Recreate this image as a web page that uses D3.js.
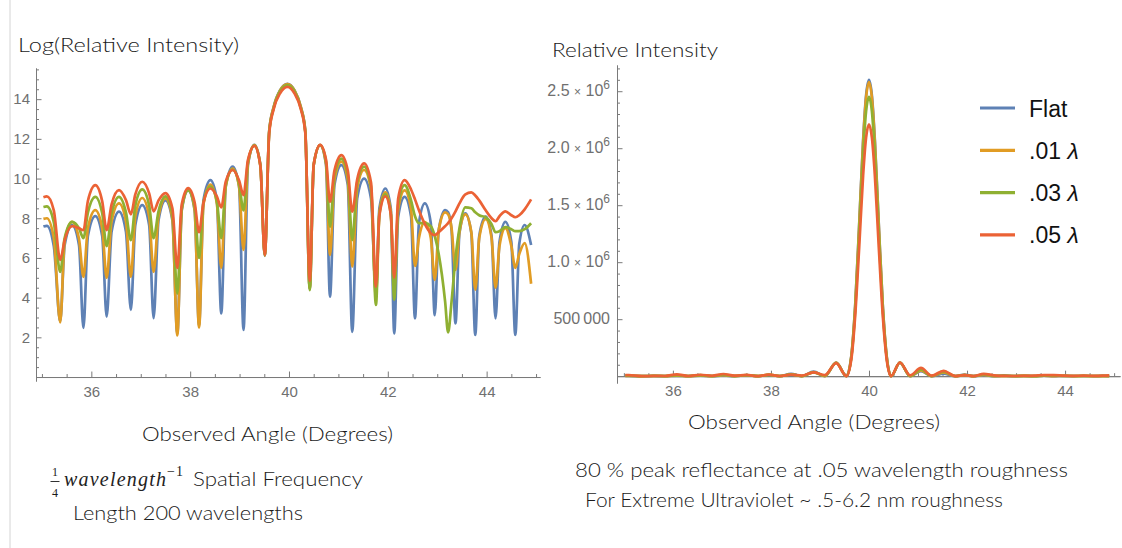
<!DOCTYPE html>
<html><head><meta charset="utf-8">
<script src="https://cdn.jsdelivr.net/npm/d3@7"></script>
<style>body{margin:0;background:#fff}svg{display:block}</style>
</head><body><svg id="c" width="1122" height="548"></svg>
<script>
// ---------- data ----------
const seriesNames = ["Flat", ".01", ".03", ".05"];
const seriesColors = ["#5e81b5", "#e19c24", "#8fb032", "#eb6235"];

// Left chart: Log(Relative Intensity) vs observed angle
const logAngles = [
  35.03, 35.10, 35.24, 35.37, 35.46, 35.61, 35.75, 35.84,
  35.93, 36.08, 36.22, 36.31, 36.41, 36.56, 36.70, 36.80,
  36.89, 37.03, 37.17, 37.26, 37.36, 37.50, 37.64, 37.74,
  37.83, 37.96, 38.09, 38.18, 38.27, 38.41, 38.54, 38.63,
  38.72, 38.86, 38.99, 39.08, 39.17, 39.30, 39.42, 39.51,
  39.60, 39.69, 39.82, 39.97, 40.11, 40.24, 40.33, 40.42,
  40.50, 40.63, 40.75, 40.83, 40.92, 41.06, 41.19, 41.28,
  41.38, 41.52, 41.66, 41.76, 41.83, 41.95, 42.06, 42.13,
  42.21, 42.34, 42.47, 42.55, 42.63, 42.75, 42.87, 42.95,
  43.03, 43.16, 43.22, 43.29, 43.37, 43.45, 43.57, 43.69, 43.77,
  43.85, 43.98, 44.10, 44.18, 44.26, 44.38, 44.50, 44.58,
  44.66, 44.77, 44.90
];
const logFlat = [
  7.58, 7.62, 6.6, 2.8, 6.65, 7.65, 6.65, 2.47,
  7.1, 8.11, 7.1, 3.04, 7.33, 8.33, 7.33, 3.38,
  7.66, 8.66, 7.66, 2.97, 7.9, 8.9, 7.9, 2.2,
  8.4, 9.4, 8.4, 2.6, 8.92, 9.92, 8.92, 3.2,
  9.6, 10.6, 9.6, 2.37, 10.7, 11.7, 10.7, 6.1,
  12.4, 13.6, 14.45, 14.77, 14.45, 13.6, 12.4, 4.45,
  10.68, 11.68, 10.68, 4.05, 9.68, 10.68, 9.68, 2.28,
  9.0, 10.0, 9.0, 4.2, 8.5, 9.5, 8.5, 2.2,
  8.08, 9.08, 8.1, 2.96, 7.75, 8.75, 7.75, 3.12,
  7.4, 8.41, 8.3, 7.4, 2.7, 7.25, 8.25, 7.25, 2.12,
  7.1, 8.08, 7.1, 2.96, 6.8, 7.82, 6.8, 2.12,
  6.7, 7.66, 6.65
];
const logR01 = [
  7.97, 8.0, 7.0, 2.75, 6.85, 7.82, 6.97, 5.05,
  7.5, 8.41, 7.5, 5.0, 7.85, 8.75, 7.85, 5.05,
  8.1, 9.02, 8.1, 5.3, 8.1, 9.0, 8.0, 2.1,
  8.45, 9.45, 8.45, 2.5, 8.7, 9.7, 8.75, 5.5,
  9.6, 10.5, 9.6, 6.4, 10.75, 11.68, 10.68, 6.12,
  12.4, 13.6, 14.44, 14.76, 14.44, 13.6, 12.4, 4.45,
  10.68, 11.68, 10.75, 6.15, 9.95, 10.85, 9.95, 5.56,
  9.5, 10.43, 9.45, 4.05, 8.3, 9.3, 8.35, 4.4,
  8.45, 9.4, 8.45, 5.6, 7.0, 7.8, 7.0, 4.9,
  7.4, 8.3, 8.2, 7.5, 5.4, 7.3, 8.2, 7.3, 4.4,
  7.0, 7.95, 7.0, 4.5, 6.6, 7.5, 6.6, 5.5,
  6.2, 6.75, 4.7
];
const logR03 = [
  8.57, 8.6, 7.8, 5.3, 7.0, 7.82, 7.5, 7.0,
  8.28, 9.08, 8.25, 6.6, 8.25, 9.08, 8.3, 6.9,
  8.65, 9.45, 8.65, 7.0, 8.35, 9.1, 8.2, 4.2,
  8.5, 9.4, 8.6, 6.0, 8.8, 9.6, 8.85, 7.0,
  9.7, 10.45, 9.75, 8.4, 10.85, 11.66, 10.66, 6.14,
  12.35, 13.55, 14.4, 14.71, 14.4, 13.55, 12.35, 4.38,
  10.68, 11.68, 10.85, 7.57, 10.2, 11.0, 10.2, 6.9,
  9.8, 10.6, 9.6, 3.63, 8.2, 9.2, 8.2, 3.9,
  8.7, 9.67, 8.9, 8.1, 7.75, 7.75, 7.6, 7.1,
  6.2, 3.8, 2.25, 3.8, 6.0, 7.5, 8.55, 8.5, 8.3,
  8.15, 8.05, 7.7, 7.3, 7.35, 7.55, 7.45, 7.35,
  7.35, 7.45, 7.75
];
const logR05 = [
  9.06, 9.1, 8.4, 5.9, 6.9, 7.6, 7.5, 7.4,
  8.87, 9.67, 8.85, 7.4, 8.7, 9.42, 8.92, 8.2,
  9.2, 9.84, 9.25, 8.35, 8.9, 9.27, 8.5, 5.5,
  8.7, 9.52, 8.8, 7.3, 8.8, 9.5, 9.1, 8.55,
  9.85, 10.43, 9.9, 9.17, 10.95, 11.65, 10.65, 6.15,
  12.3, 13.5, 14.3, 14.62, 14.3, 13.5, 12.3, 4.85,
  10.7, 11.7, 10.95, 8.83, 10.4, 11.18, 10.4, 8.33,
  9.95, 10.76, 9.8, 4.55, 8.15, 9.1, 8.2, 5.0,
  9.0, 9.92, 9.45, 8.95, 8.4, 7.7, 7.25, 7.15,
  7.3, 7.6, 7.75, 8.0, 8.35, 8.75, 9.2, 9.3, 9.15,
  8.9, 8.4, 8.0, 7.85, 8.1, 8.35, 8.15, 8.05,
  8.15, 8.45, 8.95
];

// Right chart: Relative Intensity vs observed angle
const linAngles = [
  35.03, 35.10, 35.37, 35.61, 35.84, 36.08, 36.31, 36.56, 36.80, 37.03,
  37.26, 37.50, 37.74, 37.96, 38.18, 38.41, 38.63, 38.87, 39.10, 39.33,
  39.54, 39.64, 39.72, 39.80, 39.88, 39.94, 40.00, 40.06, 40.12, 40.20,
  40.28, 40.36, 40.45, 40.63, 40.84, 41.06, 41.28, 41.52, 41.76, 41.95,
  42.13, 42.34, 42.55, 42.75, 42.95, 43.16, 43.37, 43.57, 43.77, 43.98,
  44.18, 44.38, 44.58, 44.77, 44.90
];
const linFlat = [
  1900, 2000, 0, 2100, 0, 3300, 0, 4100, 0, 5800,
  0, 7300, 0, 12000, 0, 20000, 0, 40000, 0, 120000,
  0, 177000, 630000, 1330000, 2070000, 2460000, 2600000, 2460000, 2070000, 1330000,
  630000, 177000, 0, 118000, 0, 43000, 0, 22000, 0, 13000,
  0, 8800, 0, 6300, 0, 4500, 0, 3800, 0, 3200,
  0, 2500, 0, 2100, 800
];
const linR01 = [
  2900, 3000, 0, 2500, 150, 4500, 150, 6300, 150, 8300,
  200, 8100, 0, 12700, 0, 16300, 250, 36000, 600, 118000,
  500, 176000, 625000, 1320000, 2050000, 2440000, 2580000, 2440000, 2050000, 1320000,
  625000, 176000, 0, 118000, 470, 51000, 260, 34000, 60, 11000,
  80, 12000, 270, 2400, 130, 4000, 220, 3600, 80, 2800,
  90, 1800, 250, 850, 110
];
const linR03 = [
  5300, 5400, 200, 2500, 1100, 8800, 740, 8800, 1000, 12700,
  1100, 8900, 70, 12100, 400, 14800, 1100, 34000, 4400, 116000,
  460, 167000, 590000, 1250000, 1950000, 2320000, 2450000, 2320000, 1950000, 1250000,
  590000, 167000, 80, 118000, 1900, 60000, 1000, 40000, 40, 10000,
  50, 16000, 3300, 2300, 1200, 45, 400, 5200, 4000, 3200,
  1500, 1900, 1550, 1700, 2300
];
const linR05 = [
  8600, 9000, 370, 2000, 1600, 15800, 1600, 12300, 3600, 18800,
  4200, 10600, 250, 13600, 1500, 13400, 5200, 34000, 9600, 115000,
  470, 150000, 540000, 1130000, 1760000, 2090000, 2210000, 2090000, 1760000, 1130000,
  540000, 150000, 130, 120000, 6800, 72000, 4100, 47000, 95, 9000,
  150, 20000, 7700, 2200, 1300, 2000, 4200, 9900, 9400, 4400,
  2600, 4200, 3100, 4700, 7700
];

// ticks
const xMajorTicks = [36, 38, 40, 42, 44];
const leftYTicks = [2, 4, 6, 8, 10, 12, 14];
const rightYTicks = [500000, 1000000, 1500000, 2000000, 2500000];
const rightYTickLabels = [["500\u2009000"], ["1.0", "6"], ["1.5", "6"], ["2.0", "6"], ["2.5", "6"]];

// ---------- drawing ----------
const svg = d3.select("#c");
const AX = "#7a7a7a", LBL = "#707070";
const tickFont = "'Liberation Sans', Arial, sans-serif";
const titleFont = "Lato, 'Open Sans', sans-serif";

svg.append("line").attr("x1", 10).attr("x2", 10).attr("y1", 0).attr("y2", 548)
  .attr("stroke", "#d4d4d4").attr("stroke-width", 1);

function styleAxis(g) {
  g.selectAll("path.domain").attr("stroke", AX).attr("stroke-width", 1);
  g.selectAll(".tick line").attr("stroke", AX).attr("stroke-width", 1);
  g.selectAll(".tick text").attr("fill", LBL).style("font-family", tickFont).style("font-size", "15px");
}

// Left chart
const lx = d3.scaleLinear().domain([34.88, 45.08]).range([36, 540]);
const ly = d3.scaleLinear().domain([-0.2, 15.57]).range([381, 68]);
const gL = svg.append("g");

const xMinorL = d3.range(35, 45.01, 0.5).filter(v => v % 2 !== 0);
gL.append("g").attr("transform", `translate(0,${ly(0)})`)
  .call(d3.axisBottom(lx).tickValues(xMinorL).tickSize(-3).tickSizeOuter(0).tickFormat(""))
  .call(styleAxis);
gL.append("g").attr("transform", `translate(0,${ly(0)})`)
  .call(d3.axisBottom(lx).tickValues(xMajorTicks).tickSize(-5.5).tickSizeOuter(0).tickPadding(9).tickFormat(d3.format("d")))
  .call(styleAxis);
const yMinorL = d3.range(0.5, 15.51, 0.5).filter(v => v % 2 !== 0);
gL.append("g").attr("transform", `translate(${lx(34.88)},0)`)
  .call(d3.axisLeft(ly).tickValues(yMinorL).tickSize(-3).tickSizeOuter(0).tickFormat(""))
  .call(styleAxis);
gL.append("g").attr("transform", `translate(${lx(34.88)},0)`)
  .call(d3.axisLeft(ly).tickValues(leftYTicks).tickSize(-5.5).tickSizeOuter(0).tickPadding(6).tickFormat(d3.format("d")))
  .call(styleAxis);

const lineL = d3.line().x((d, i) => lx(logAngles[i])).y(d => ly(d)).curve(d3.curveMonotoneX);
[logFlat, logR01, logR03, logR05].forEach((s, k) => {
  gL.append("path").attr("d", lineL(s)).attr("fill", "none")
    .attr("stroke", seriesColors[k]).attr("stroke-width", 2.7).attr("stroke-linejoin", "round");
});

// Right chart
const rx = d3.scaleLinear().domain([34.86, 45.12]).range([617, 1120]);
const ry = d3.scaleLinear().domain([-60000, 2730000]).range([383, 65]);
const gR = svg.append("g");
const xMinorR = d3.range(35, 45.01, 0.5).filter(v => v % 2 !== 0);
gR.append("g").attr("transform", `translate(0,${ry(0)})`)
  .call(d3.axisBottom(rx).tickValues(xMinorR).tickSize(-3).tickSizeOuter(0).tickFormat(""))
  .call(styleAxis);
gR.append("g").attr("transform", `translate(0,${ry(0)})`)
  .call(d3.axisBottom(rx).tickValues(xMajorTicks).tickSize(-5.5).tickSizeOuter(0).tickPadding(9).tickFormat(d3.format("d")))
  .call(styleAxis);
const yMinorR = d3.range(100000, 2700001, 100000).filter(v => v % 500000 !== 0);
gR.append("g").attr("transform", `translate(${rx(34.86)},0)`)
  .call(d3.axisLeft(ry).tickValues(yMinorR).tickSize(-3).tickSizeOuter(0).tickFormat(""))
  .call(styleAxis);
gR.append("g").attr("transform", `translate(${rx(34.86)},0)`)
  .call(d3.axisLeft(ry).tickValues(rightYTicks).tickSize(-5.5).tickSizeOuter(0).tickFormat(""))
  .call(styleAxis);
rightYTicks.forEach((v, i) => {
  const lab = rightYTickLabels[i];
  const t = gR.append("text").attr("x", rx(34.86) - 7).attr("y", ry(v) + 5)
    .attr("text-anchor", "end").attr("fill", LBL)
    .style("font-family", tickFont).style("font-size", "16px");
  if (lab.length === 1) { t.text(lab[0]); }
  else {
    t.append("tspan").text(lab[0] + " ");
    t.append("tspan").style("font-size", "12px").text("×");
    t.append("tspan").text(" 10");
    t.append("tspan").attr("dy", -7).style("font-size", "12px").text(lab[1]);
  }
});

const lineR = d3.line().x((d, i) => rx(linAngles[i])).y(d => ry(d)).curve(d3.curveMonotoneX);
[linFlat, linR01, linR03, linR05].forEach((s, k) => {
  gR.append("path").attr("d", lineR(s)).attr("fill", "none")
    .attr("stroke", seriesColors[k]).attr("stroke-width", 2.7).attr("stroke-linejoin", "round");
});

// Legend
const leg = svg.append("g");
seriesNames.forEach((n, k) => {
  const y = 108 + k * 42.3;
  leg.append("line").attr("x1", 980).attr("x2", 1015).attr("y1", y).attr("y2", y)
    .attr("stroke", seriesColors[k]).attr("stroke-width", 3.2);
  const t = leg.append("text").attr("x", 1029).attr("y", y + 8.5).attr("fill", "#111")
    .style("font-family", tickFont).style("font-size", "23px");
  if (k === 0) t.text(n);
  else {
    t.append("tspan").text(n + " ");
    t.append("tspan").style("font-style", "italic").text("λ");
  }
});

// Titles and notes
function label(txt, x, y, size, len) {
  const t = svg.append("text").attr("x", x).attr("y", y).attr("fill", "#1a1a1a")
    .style("font-family", titleFont).style("font-weight", "300")
    .style("font-size", size + "px").text(txt);
  if (len) t.attr("textLength", len).attr("lengthAdjust", "spacingAndGlyphs");
  return t;
}
label("Log(Relative Intensity)", 18, 51.5, 20, 221);
label("Relative Intensity", 552, 56.5, 19, 166);
label("Observed Angle (Degrees)", 142, 440.5, 20, 251);
label("Observed Angle (Degrees)", 688, 429, 20, 252);
label("80 % peak reflectance at .05 wavelength roughness", 575, 477, 19, 493);
label("For Extreme Ultraviolet ~ .5-6.2 nm roughness", 585, 507, 19, 418);
label("Length 200 wavelengths", 73, 519.5, 20, 230);

// 1/4 wavelength^-1 Spatial Frequency
const mathFont = "'Liberation Serif', 'DejaVu Serif', serif";
svg.append("text").attr("x", 55).attr("y", 476).attr("text-anchor", "middle").attr("fill", "#1a1a1a")
  .style("font-family", mathFont).style("font-size", "12px").text("1");
svg.append("line").attr("x1", 50.5).attr("x2", 59.5).attr("y1", 481.5).attr("y2", 481.5)
  .attr("stroke", "#1a1a1a").attr("stroke-width", 0.9);
svg.append("text").attr("x", 55).attr("y", 496.5).attr("text-anchor", "middle").attr("fill", "#1a1a1a")
  .style("font-family", mathFont).style("font-size", "12px").text("4");
svg.append("text").attr("x", 64).attr("y", 486).attr("fill", "#222")
  .style("font-family", mathFont).style("font-style", "italic").style("font-weight", "400")
  .style("font-size", "20px").style("letter-spacing", "1.2px").text("wavelength");
svg.append("text").attr("x", 167).attr("y", 476).attr("fill", "#222")
  .style("font-family", mathFont).style("font-size", "14px").style("font-weight", "400")
  .style("letter-spacing", "1px").text("−1");
label("Spatial Frequency", 193, 486, 20, 170);
</script></body></html>
